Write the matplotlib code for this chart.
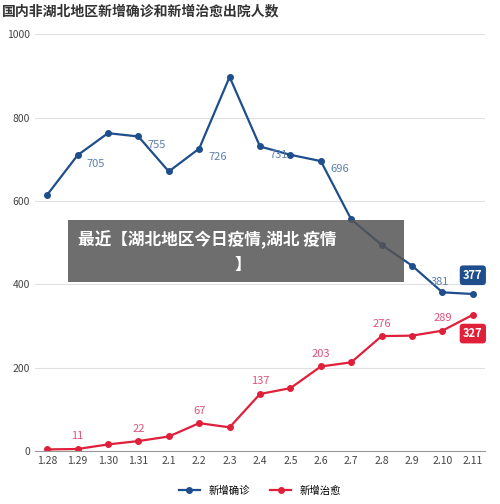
import matplotlib
matplotlib.use("Agg")
import matplotlib.pyplot as plt
from matplotlib.patches import Rectangle

plt.rcParams['font.family'] = ['Noto Sans CJK SC', 'DejaVu Sans']

dates = ["1.28","1.29","1.30","1.31","2.1","2.2","2.3","2.4","2.5","2.6","2.7","2.8","2.9","2.10","2.11"]
confirmed = [615, 710, 763, 755, 671, 726, 898, 731, 711, 696, 556, 495, 445, 381, 377]
cured = [4, 5, 16, 24, 35, 67, 57, 137, 151, 203, 213, 276, 277, 289, 327]
conf_labels = {1: "705", 3: "755", 5: "726", 7: "731", 9: "696", 13: "381"}
cured_labels = {1: "11", 3: "22", 5: "67", 7: "137", 9: "203", 11: "276", 13: "289"}

blue = "#1f4e8c"; red = "#e0203a"
fig = plt.figure(figsize=(5.0, 5.04), dpi=100)
ax = fig.add_axes([0.07, 0.105, 0.9, 0.835])
x = list(range(len(dates)))
ax.plot(x, confirmed, color=blue, lw=1.6, marker='o', ms=4, label="新增确诊")
ax.plot(x, cured, color=red, lw=1.6, marker='o', ms=4, label="新增治愈")
for i, t in conf_labels.items():
    if i == 13:
        ax.text(i - 0.1, confirmed[i] + 12, t, color="#5a7fb0", fontsize=8, ha='center', va='bottom')
    else:
        ax.text(i + 0.3, confirmed[i] - 20, t, color="#5a7fb0", fontsize=8, va='center')
for i, t in cured_labels.items():
    ax.text(i, cured[i] + 18, t, color="#e0507a", fontsize=8, ha='center', va='bottom')
ax.text(14, confirmed[14] + 45, "377", color='white', fontsize=8, fontweight='bold', ha='center', va='center',
        bbox=dict(boxstyle='round,pad=0.3', fc=blue, ec='none'))
ax.text(14, cured[14] - 45, "327", color='white', fontsize=8, fontweight='bold', ha='center', va='center',
        bbox=dict(boxstyle='round,pad=0.3', fc=red, ec='none'))
ax.set_xlim(-0.4, 14.4)
ax.set_ylim(0, 1010)
ax.set_yticks([0, 200, 400, 600, 800, 1000])
ax.set_xticks(x)
ax.set_xticklabels(dates)
ax.tick_params(labelsize=7.5, colors="#444444", length=0)
ax.grid(axis='y', color='#e0e0e0', lw=0.8)
for s in ['top', 'right', 'left']:
    ax.spines[s].set_visible(False)
ax.spines['bottom'].set_color('#999999')
fig.text(0.004, 0.977, "国内非湖北地区新增确诊和新增治愈出院人数", fontsize=10, fontweight='bold', color='#333333', va='center')
ax.legend(loc='upper center', bbox_to_anchor=(0.5, -0.06), ncol=2, frameon=False, fontsize=7.5)
fig.patches.append(Rectangle((0.136, 0.44), 0.672, 0.123, transform=fig.transFigure, fc='#555555', alpha=0.85, ec='none'))
fig.text(0.155, 0.525, "最近【湖北地区今日疫情,湖北 疫情", fontsize=12, fontweight='bold', color='white', ha='left', va='center')
fig.text(0.485, 0.475, "】", fontsize=12, fontweight='bold', color='white', ha='center', va='center')
fig.savefig("out.png", dpi=100, facecolor='white')
